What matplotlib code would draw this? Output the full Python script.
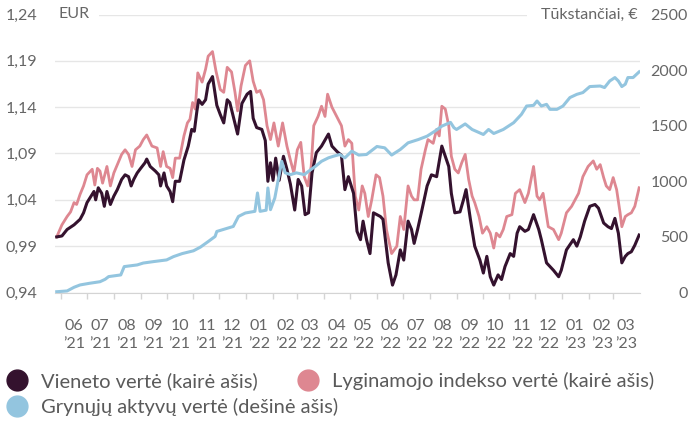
import matplotlib
matplotlib.use('Agg')
import matplotlib.pyplot as plt
import matplotlib.transforms as mtransforms
from matplotlib.lines import Line2D
import pandas as pd

plt.rcParams['font.family'] = ['Lato', 'DejaVu Sans']

# Vieneto vertė (kairė ašis)
unit_dates = [
    "2021-05-27", "2021-06-02", "2021-06-08", "2021-06-16", "2021-06-23", "2021-06-27",
    "2021-07-01", "2021-07-07", "2021-07-09", "2021-07-11", "2021-07-14", "2021-07-18",
    "2021-07-21", "2021-07-24", "2021-07-28", "2021-08-01", "2021-08-05", "2021-08-10",
    "2021-08-14", "2021-08-18", "2021-08-21", "2021-08-24", "2021-08-28", "2021-09-01",
    "2021-09-06", "2021-09-08", "2021-09-12", "2021-09-18", "2021-09-22", "2021-09-24",
    "2021-09-28", "2021-10-01", "2021-10-05", "2021-10-08", "2021-10-11", "2021-10-16",
    "2021-10-21", "2021-10-26", "2021-10-30", "2021-11-02", "2021-11-05", "2021-11-07",
    "2021-11-11", "2021-11-15", "2021-11-18", "2021-11-23", "2021-11-28", "2021-12-02",
    "2021-12-06", "2021-12-10", "2021-12-13", "2021-12-17", "2021-12-22", "2021-12-27",
    "2022-01-02", "2022-01-06", "2022-01-09", "2022-01-13", "2022-01-19", "2022-01-23",
    "2022-01-26", "2022-01-29", "2022-02-01", "2022-02-04", "2022-02-08", "2022-02-13",
    "2022-02-17", "2022-02-21", "2022-02-26", "2022-03-02", "2022-03-06", "2022-03-10",
    "2022-03-14", "2022-03-18", "2022-03-23", "2022-03-29", "2022-04-03", "2022-04-06",
    "2022-04-10", "2022-04-16", "2022-04-21", "2022-04-25", "2022-04-29", "2022-05-05",
    "2022-05-09", "2022-05-13", "2022-05-16", "2022-05-20", "2022-05-24", "2022-05-28",
    "2022-06-05", "2022-06-08", "2022-06-14", "2022-06-19", "2022-06-23", "2022-06-28",
    "2022-07-02", "2022-07-07", "2022-07-11", "2022-07-14", "2022-07-18", "2022-07-23",
    "2022-07-29", "2022-08-03", "2022-08-09", "2022-08-15", "2022-08-19", "2022-08-23",
    "2022-08-26", "2022-08-30", "2022-09-05", "2022-09-09", "2022-09-12", "2022-09-17",
    "2022-09-22", "2022-09-28", "2022-10-02", "2022-10-06", "2022-10-10", "2022-10-14",
    "2022-10-19", "2022-10-23", "2022-10-27", "2022-11-02", "2022-11-06", "2022-11-10",
    "2022-11-13", "2022-11-19", "2022-11-23", "2022-11-29", "2022-12-05", "2022-12-08",
    "2022-12-14", "2022-12-22", "2022-12-28", "2022-12-31", "2023-01-06", "2023-01-14",
    "2023-01-18", "2023-01-22", "2023-01-27", "2023-02-02", "2023-02-08", "2023-02-12",
    "2023-02-18", "2023-02-23", "2023-02-27", "2023-03-03", "2023-03-07", "2023-03-11",
    "2023-03-15", "2023-03-18", "2023-03-22", "2023-03-26", "2023-03-31",
]
unit_values = [
    1.000, 1.001, 1.008, 1.013, 1.019, 1.026,
    1.037, 1.046, 1.049, 1.040, 1.053, 1.047,
    1.033, 1.049, 1.035, 1.044, 1.051, 1.062,
    1.067, 1.065, 1.055, 1.062, 1.069, 1.074,
    1.080, 1.084, 1.076, 1.071, 1.067, 1.055,
    1.069, 1.055, 1.049, 1.038, 1.060, 1.060,
    1.083, 1.098, 1.116, 1.114, 1.136, 1.148,
    1.143, 1.148, 1.165, 1.173, 1.142, 1.132,
    1.123, 1.148, 1.145, 1.130, 1.111, 1.144,
    1.154, 1.157, 1.128, 1.118, 1.116, 1.104,
    1.060, 1.080, 1.061, 1.085, 1.061, 1.087,
    1.073, 1.057, 1.029, 1.062, 1.055, 1.024,
    1.026, 1.069, 1.091, 1.098, 1.106, 1.111,
    1.098, 1.092, 1.088, 1.051, 1.065, 1.047,
    1.006, 0.997, 1.017, 0.997, 0.982, 1.026,
    1.022, 1.019, 0.972, 0.948, 0.959, 0.986,
    0.975, 1.017, 1.008, 0.993, 1.008, 1.029,
    1.055, 1.067, 1.065, 1.098, 1.087, 1.076,
    1.047, 1.026, 1.027, 1.040, 1.051, 1.019,
    0.990, 0.975, 0.961, 0.979, 0.957, 0.948,
    0.959, 0.954, 0.968, 0.982, 0.979, 1.004,
    1.011, 1.006, 1.008, 1.024, 1.008, 0.997,
    0.972, 0.964, 0.957, 0.964, 0.986, 0.997,
    0.990, 1.000, 1.017, 1.033, 1.035, 1.031,
    1.015, 1.011, 1.009, 1.020, 1.004, 0.972,
    0.979, 0.982, 0.984, 0.991, 1.002,
]

# Lyginamojo indekso vertė (kairė ašis)
index_dates = [
    "2021-05-27", "2021-06-02", "2021-06-08", "2021-06-12", "2021-06-16", "2021-06-19",
    "2021-06-23", "2021-06-27", "2021-07-01", "2021-07-07", "2021-07-10", "2021-07-13",
    "2021-07-16", "2021-07-19", "2021-07-24", "2021-07-28", "2021-08-01", "2021-08-05",
    "2021-08-10", "2021-08-14", "2021-08-18", "2021-08-22", "2021-08-26", "2021-08-31",
    "2021-09-04", "2021-09-08", "2021-09-14", "2021-09-20", "2021-09-24", "2021-09-27",
    "2021-10-01", "2021-10-05", "2021-10-08", "2021-10-11", "2021-10-16", "2021-10-21",
    "2021-10-25", "2021-10-28", "2021-10-31", "2021-11-03", "2021-11-06", "2021-11-11",
    "2021-11-15", "2021-11-18", "2021-11-23", "2021-11-27", "2021-12-02", "2021-12-06",
    "2021-12-10", "2021-12-15", "2021-12-19", "2021-12-22", "2021-12-26", "2021-12-31",
    "2022-01-05", "2022-01-09", "2022-01-13", "2022-01-17", "2022-01-21", "2022-01-25",
    "2022-01-29", "2022-02-02", "2022-02-07", "2022-02-12", "2022-02-17", "2022-02-21",
    "2022-02-25", "2022-03-01", "2022-03-05", "2022-03-09", "2022-03-13", "2022-03-17",
    "2022-03-20", "2022-03-25", "2022-03-29", "2022-04-02", "2022-04-05", "2022-04-10",
    "2022-04-16", "2022-04-21", "2022-04-25", "2022-04-29", "2022-05-03", "2022-05-07",
    "2022-05-11", "2022-05-15", "2022-05-18", "2022-05-22", "2022-05-26", "2022-05-31",
    "2022-06-04", "2022-06-08", "2022-06-12", "2022-06-18", "2022-06-24", "2022-06-28",
    "2022-07-02", "2022-07-07", "2022-07-11", "2022-07-14", "2022-07-18", "2022-07-22",
    "2022-07-27", "2022-07-30", "2022-08-05", "2022-08-09", "2022-08-12", "2022-08-15",
    "2022-08-19", "2022-08-23", "2022-08-26", "2022-08-30", "2022-09-03", "2022-09-07",
    "2022-09-11", "2022-09-15", "2022-09-19", "2022-09-22", "2022-09-27", "2022-10-01",
    "2022-10-06", "2022-10-10", "2022-10-14", "2022-10-17", "2022-10-21", "2022-10-25",
    "2022-10-29", "2022-11-04", "2022-11-08", "2022-11-13", "2022-11-19", "2022-11-23",
    "2022-11-29", "2022-12-03", "2022-12-06", "2022-12-10", "2022-12-16", "2022-12-22",
    "2022-12-28", "2022-12-31", "2023-01-06", "2023-01-12", "2023-01-16", "2023-01-20",
    "2023-01-25", "2023-01-31", "2023-02-06", "2023-02-10", "2023-02-14", "2023-02-18",
    "2023-02-21", "2023-02-25", "2023-03-01", "2023-03-05", "2023-03-09", "2023-03-11",
    "2023-03-15", "2023-03-18", "2023-03-22", "2023-03-26", "2023-03-31",
]
index_values = [
    1.000, 1.013, 1.022, 1.027, 1.037, 1.035,
    1.046, 1.055, 1.067, 1.073, 1.056, 1.074,
    1.071, 1.058, 1.076, 1.055, 1.069, 1.078,
    1.089, 1.094, 1.089, 1.076, 1.094, 1.098,
    1.105, 1.110, 1.098, 1.096, 1.076, 1.092,
    1.076, 1.074, 1.064, 1.085, 1.085, 1.109,
    1.123, 1.127, 1.145, 1.138, 1.177, 1.167,
    1.181, 1.195, 1.200, 1.179, 1.159, 1.156,
    1.183, 1.178, 1.156, 1.136, 1.163, 1.185,
    1.190, 1.168, 1.156, 1.158, 1.148, 1.120,
    1.105, 1.123, 1.098, 1.123, 1.098, 1.083,
    1.069, 1.094, 1.102, 1.065, 1.055, 1.076,
    1.120, 1.130, 1.141, 1.130, 1.154, 1.140,
    1.129, 1.120, 1.098, 1.105, 1.101, 1.044,
    1.029, 1.055, 1.047, 1.022, 1.040, 1.067,
    1.064, 1.044, 1.008, 0.982, 0.990, 1.022,
    1.008, 1.055, 1.044, 1.040, 1.040, 1.073,
    1.094, 1.105, 1.101, 1.116, 1.109, 1.141,
    1.138, 1.120, 1.087, 1.073, 1.069, 1.080,
    1.089, 1.062, 1.044, 1.037, 1.022, 1.004,
    1.011, 1.004, 0.988, 1.004, 1.000, 1.008,
    1.022, 1.024, 1.047, 1.051, 1.037, 1.047,
    1.076, 1.044, 1.040, 1.047, 1.011, 1.008,
    0.997, 1.004, 1.026, 1.033, 1.040, 1.047,
    1.065, 1.076, 1.082, 1.073, 1.078, 1.064,
    1.055, 1.051, 1.064, 1.051, 1.026, 1.011,
    1.022, 1.024, 1.026, 1.033, 1.053,
]

# Grynųjų aktyvų vertė, tūkst. EUR (dešinė ašis)
nav_dates = [
    "2021-05-27", "2021-06-08", "2021-06-16", "2021-06-23", "2021-07-04", "2021-07-16",
    "2021-07-22", "2021-07-26", "2021-08-09", "2021-08-13", "2021-08-28", "2021-09-04",
    "2021-09-16", "2021-10-01", "2021-10-09", "2021-10-19", "2021-11-01", "2021-11-09",
    "2021-11-18", "2021-11-26", "2021-11-28", "2021-12-17", "2021-12-23", "2021-12-31",
    "2022-01-11", "2022-01-14", "2022-01-17", "2022-01-24", "2022-01-26", "2022-01-29",
    "2022-02-03", "2022-02-07", "2022-02-11", "2022-02-15", "2022-02-21", "2022-02-28",
    "2022-03-09", "2022-03-14", "2022-03-22", "2022-03-29", "2022-04-06", "2022-04-12",
    "2022-04-19", "2022-04-25", "2022-05-03", "2022-05-11", "2022-05-20", "2022-06-01",
    "2022-06-10", "2022-06-18", "2022-06-28", "2022-07-07", "2022-07-19", "2022-07-29",
    "2022-08-07", "2022-08-15", "2022-08-25", "2022-08-29", "2022-09-01", "2022-09-11",
    "2022-09-19", "2022-10-02", "2022-10-08", "2022-10-14", "2022-10-25", "2022-11-06",
    "2022-11-15", "2022-11-21", "2022-11-29", "2022-12-03", "2022-12-08", "2022-12-14",
    "2022-12-18", "2022-12-26", "2023-01-02", "2023-01-10", "2023-01-18", "2023-01-25",
    "2023-02-02", "2023-02-14", "2023-02-19", "2023-02-25", "2023-03-03", "2023-03-07",
    "2023-03-11", "2023-03-15", "2023-03-18", "2023-03-24", "2023-03-31",
]
nav_values = [
    7, 14, 47, 68, 83, 97,
    119, 143, 158, 233, 248, 265,
    278, 293, 323, 350, 375, 408,
    458, 504, 549, 594, 684, 715,
    730, 895, 730, 740, 940, 745,
    850, 1015, 1180, 1076, 1060, 1076,
    1060, 1090, 1135, 1180, 1211, 1226,
    1241, 1211, 1271, 1236, 1241, 1313,
    1301, 1236, 1286, 1346, 1376, 1406,
    1451, 1496, 1530, 1482, 1466, 1516,
    1466, 1421, 1466, 1430, 1466, 1527,
    1602, 1677, 1683, 1722, 1677, 1692,
    1647, 1647, 1677, 1753, 1782, 1798,
    1852, 1857, 1843, 1902, 1933, 1902,
    1852, 1873, 1933, 1933, 1984,
]

month_ticks = pd.date_range("2021-06-01", "2023-03-01", freq="MS")
month_labels = [
    "06\n’21", "07\n’21", "08\n’21", "09\n’21", "10\n’21", "11\n’21", "12\n’21",
    "01\n’22", "02\n’22", "03\n’22", "04\n’22", "05\n’22", "06\n’22", "07\n’22",
    "08\n’22", "09\n’22", "10\n’22", "11\n’22", "12\n’22",
    "01\n’23", "02\n’23", "03\n’23",
]
left_ticks = [0.94, 0.99, 1.04, 1.09, 1.14, 1.19, 1.24]
left_labels = ["0,94", "0,99", "1,04", "1,09", "1,14", "1,19", "1,24"]
right_ticks = [0, 500, 1000, 1500, 2000, 2500]

c_unit = '#34122e'
c_index = '#de8791'
c_nav = '#93c5df'
c_text = '#666666'

fig = plt.figure(figsize=(6.9, 4.21), dpi=100)
ax = fig.add_axes([55 / 690, 128.5 / 421, 585 / 690, 278 / 421])
ax2 = ax.twinx()

ax.plot(pd.to_datetime(index_dates), index_values, color=c_index, lw=2.0, zorder=3)
ax.plot(pd.to_datetime(unit_dates), unit_values, color=c_unit, lw=2.2, zorder=4)
ax2.plot(pd.to_datetime(nav_dates), nav_values, color=c_nav, lw=2.2, zorder=3)

ax.set_xlim(pd.Timestamp("2021-05-25"), pd.Timestamp("2023-04-01"))
ax.set_ylim(0.94, 1.24)
ax2.set_ylim(0, 2500)

ax.set_yticks(left_ticks)
ax.set_yticklabels(left_labels)
ax2.set_yticks(right_ticks)
ax2.set_yticklabels([str(v) for v in right_ticks])

ax.grid(axis='y', color='#e6e6e6', lw=1, zorder=0)
for a in (ax, ax2):
    for s in a.spines.values():
        s.set_visible(False)
ax.spines['bottom'].set_visible(True)
ax.spines['bottom'].set_color('#d4d4d4')

ax.tick_params(axis='y', length=0, pad=13, labelsize=11.5, labelcolor=c_text)
ax2.tick_params(axis='y', length=0, pad=34.5, labelsize=11.5, labelcolor=c_text)
for lab in ax2.get_yticklabels():
    lab.set_horizontalalignment('right')

# month boundaries as ticks, labels centred between them
ax.set_xticks(month_ticks)
ax.xaxis.set_major_formatter(plt.NullFormatter())
ax.tick_params(axis='x', which='major', length=4.5, width=1, color='#d4d4d4')
mids = month_ticks + pd.Timedelta(days=15)
ax.set_xticks(mids, minor=True)
ax.set_xticklabels(month_labels, minor=True)
ax.tick_params(axis='x', which='minor', length=0, pad=19, labelsize=11.5, labelcolor=c_text)
for lab in ax.get_xticklabels(minor=True):
    lab.set_linespacing(1.4)

trans = mtransforms.blended_transform_factory(ax.transAxes, ax.transData)
box = dict(facecolor='white', edgecolor='none', boxstyle='square,pad=0.6')
ax.text(0.006, 1.24, 'EUR', transform=trans, ha='left', va='center',
        fontsize=11.5, color=c_text, bbox=box, zorder=5)
ax.text(0.996, 1.24, 'Tūkstančiai, €', transform=trans, ha='right', va='center',
        fontsize=11.5, color=c_text, bbox=dict(facecolor='white', edgecolor='none',
                                                boxstyle='square,pad=0.9'), zorder=5)

def handle(c):
    return Line2D([], [], marker='o', ls='none', markersize=15,
                  markerfacecolor=c, markeredgecolor=c)

leg1 = fig.legend([handle(c_unit), handle(c_index)],
                  ['Vieneto vertė (kairė ašis)', 'Lyginamojo indekso vertė (kairė ašis)'],
                  loc='center left', bbox_to_anchor=(0.0043, 1 - 381 / 421), ncol=2,
                  frameon=False, fontsize=14.5, labelcolor='#5a5a5a',
                  handlelength=1.0, handletextpad=0.7, columnspacing=2.0,
                  borderaxespad=0, borderpad=0.2)
leg2 = fig.legend([handle(c_nav)], ['Grynųjų aktyvų vertė (dešinė ašis)'],
                  loc='center left', bbox_to_anchor=(0.0043, 1 - 407 / 421),
                  frameon=False, fontsize=14.5, labelcolor='#5a5a5a',
                  handlelength=1.0, handletextpad=0.7,
                  borderaxespad=0, borderpad=0.2)

fig.savefig('out.png', dpi=100)
